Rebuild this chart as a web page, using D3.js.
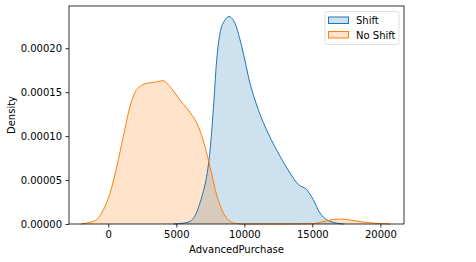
<!DOCTYPE html>
<html>
<head>
<meta charset="utf-8">
<script src="https://cdn.jsdelivr.net/npm/d3@7"></script>
<style>
  body { margin: 0; background: #fff; }
  svg text { font-family: "DejaVu Sans", sans-serif; font-size: 10px; fill: #000; }
</style>
</head>
<body>
<div id="chart"></div>
<script>
// Density curves (x = AdvancedPurchase, y = density)
const shiftX = [4800, 5300, 5700, 6010, 6400, 6740, 7000, 7230, 7480, 7720, 7970, 8210, 8580, 8875, 9320, 9810, 10420, 11030, 11760, 12630, 13360, 13970, 14590, 15070, 15560, 16050, 16400, 16790, 17300];
const shiftY = [0, 0.05e-5, 0.15e-5, 0.3e-5, 1.0e-5, 2.4e-5, 3.8e-5, 5.4e-5, 8.4e-5, 13.0e-5, 18.7e-5, 21.7e-5, 23.2e-5, 23.6e-5, 22.8e-5, 20.2e-5, 16.0e-5, 13.0e-5, 10.3e-5, 7.7e-5, 5.8e-5, 4.5e-5, 3.9e-5, 2.76e-5, 1.25e-5, 0.49e-5, 0.25e-5, 0.1e-5, 0];

const noShiftX = [-2000, -1590, -1200, -850, -370, 125, 620, 1100, 1600, 2090, 2820, 3310, 4040, 4540, 5270, 6010, 6620, 7110, 7480, 7970, 8460, 8950, 9400, 10000, 12500, 15000, 15600, 16300, 17040, 17800, 18600, 19500, 20700];
const noShiftY = [0, 0.1e-5, 0.25e-5, 0.5e-5, 1.6e-5, 3.5e-5, 6.5e-5, 9.95e-5, 13.4e-5, 15.3e-5, 16.0e-5, 16.1e-5, 16.3e-5, 15.6e-5, 14.1e-5, 12.7e-5, 11.1e-5, 8.8e-5, 6.5e-5, 3.3e-5, 1.25e-5, 0.3e-5, 0.05e-5, 0, 0, 0.02e-5, 0.2e-5, 0.45e-5, 0.57e-5, 0.45e-5, 0.25e-5, 0.1e-5, 0];

const xTicks = [0, 5000, 10000, 15000, 20000];
const yTicks = [0, 0.00005, 0.0001, 0.00015, 0.0002];
const seriesNames = ['Shift', 'No Shift'];
const seriesColors = ['#1f77b4', '#ff7f0e'];

const W = 476, H = 262;
const margin = {top: 6, right: 72, bottom: 38, left: 69};

const svg = d3.select('#chart').append('svg')
    .attr('width', W)
    .attr('height', H);

const x = d3.scaleLinear()
    .domain([-2890, 21740])
    .range([margin.left, W - margin.right]);

const y = d3.scaleLinear()
    .domain([0, 0.000248])
    .range([H - margin.bottom, margin.top]);

const series = [
    {name: seriesNames[0], color: seriesColors[0], pts: d3.zip(shiftX, shiftY)},
    {name: seriesNames[1], color: seriesColors[1], pts: d3.zip(noShiftX, noShiftY)}
];

const area = d3.area()
    .x(d => x(d[0]))
    .y0(y(0))
    .y1(d => y(d[1]))
    .curve(d3.curveMonotoneX);

const line = d3.line()
    .x(d => x(d[0]))
    .y(d => y(d[1]))
    .curve(d3.curveMonotoneX);

// Filled densities
series.forEach(s => {
    svg.append('path')
        .attr('d', area(s.pts))
        .attr('fill', s.color)
        .attr('fill-opacity', 0.22);
});
series.forEach(s => {
    svg.append('path')
        .attr('d', line(s.pts))
        .attr('fill', 'none')
        .attr('stroke', s.color)
        .attr('stroke-width', 1);
});

// Axes
const xAxis = svg.append('g')
    .attr('transform', `translate(0,${H - margin.bottom})`)
    .call(d3.axisBottom(x).tickValues(xTicks).tickFormat(d3.format('d')).tickSize(3.5).tickPadding(3.5));

const yAxis = svg.append('g')
    .attr('transform', `translate(${margin.left},0)`)
    .call(d3.axisLeft(y).tickValues(yTicks).tickFormat(d3.format('.5f')).tickSize(3.5).tickPadding(3.5));

[xAxis, yAxis].forEach(g => {
    g.select('.domain').remove();
    g.selectAll('line').attr('stroke', '#000').attr('stroke-width', 0.8);
    g.selectAll('text').attr('font-family', 'DejaVu Sans').attr('font-size', 10).attr('fill', '#000');
});

// Frame
svg.append('rect')
    .attr('x', margin.left)
    .attr('y', margin.top)
    .attr('width', W - margin.right - margin.left)
    .attr('height', H - margin.bottom - margin.top)
    .attr('fill', 'none')
    .attr('stroke', '#000')
    .attr('stroke-width', 0.8);

// Axis labels
svg.append('text')
    .attr('x', (margin.left + W - margin.right) / 2)
    .attr('y', 253)
    .attr('text-anchor', 'middle')
    .text('AdvancedPurchase');

svg.append('text')
    .attr('transform', `translate(15,${(margin.top + H - margin.bottom) / 2}) rotate(-90)`)
    .attr('text-anchor', 'middle')
    .text('Density');

// Legend
const legend = svg.append('g');
legend.append('rect')
    .attr('x', 325)
    .attr('y', 11.5)
    .attr('width', 74)
    .attr('height', 33)
    .attr('rx', 2)
    .attr('fill', '#fff')
    .attr('fill-opacity', 0.8)
    .attr('stroke', '#d6d6d6')
    .attr('stroke-width', 0.8);

series.forEach((s, i) => {
    const yy = 17 + i * 14.5;
    legend.append('rect')
        .attr('x', 328.5)
        .attr('y', yy)
        .attr('width', 20)
        .attr('height', 6.5)
        .attr('fill', s.color)
        .attr('fill-opacity', 0.22)
        .attr('stroke', s.color)
        .attr('stroke-width', 1);
    legend.append('text')
        .attr('x', 356)
        .attr('y', yy + 7)
        .text(s.name);
});
</script>
</body>
</html>
